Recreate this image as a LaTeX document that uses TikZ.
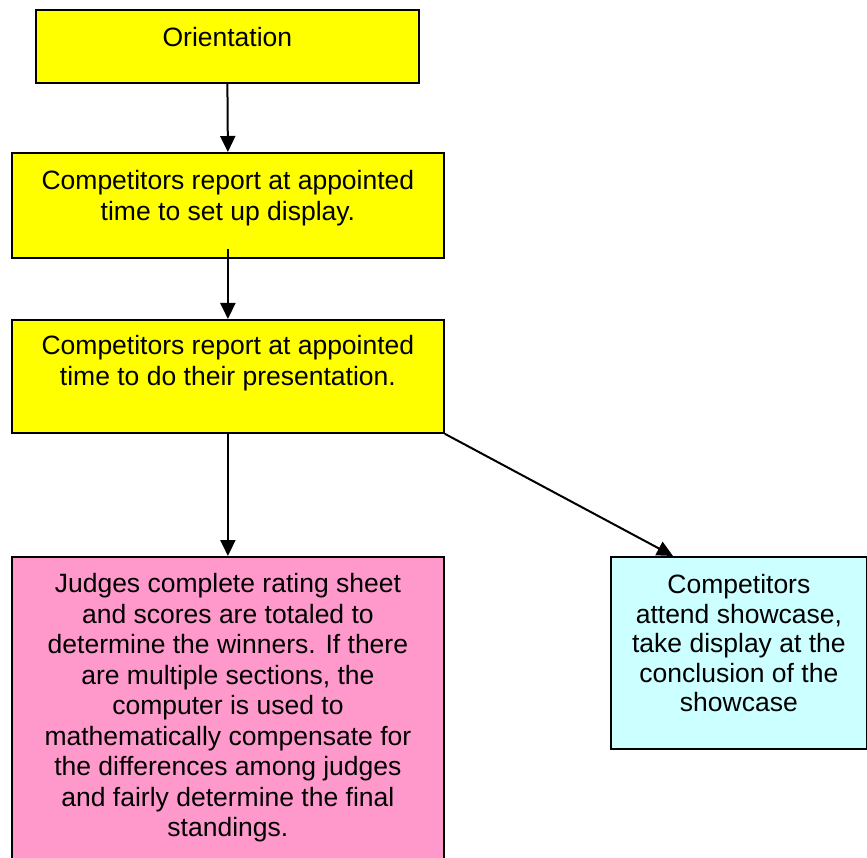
\documentclass[tikz,border=0pt]{standalone}
\usepackage{fontspec}
\setmainfont{Liberation Sans}
\usetikzlibrary{arrows.meta,calc}
\definecolor{boxyellow}{HTML}{FFFF00}
\definecolor{boxpink}{HTML}{FF99CC}
\definecolor{boxcyan}{HTML}{CCFFFF}
\begin{document}
\begin{tikzpicture}[x=1pt,y=-1pt,
  box/.style={draw=black,line width=1.8pt,inner sep=0pt,anchor=north west},
  txt/.style={font=\fontsize{26.5}{30.5}\selectfont,align=center,inner sep=0pt,anchor=north},
  arr/.style={draw=black,line width=2pt,-{Triangle[length=16pt,width=15pt]}}]
\useasboundingbox (0,0) rectangle (867,858);
\clip (0,0) rectangle (867,858);
\fill[white] (0,0) rectangle (867,858);
% boxes
\node[box,fill=boxyellow,minimum width=383pt,minimum height=73pt] (o) at (35,9) {};
\node[box,fill=boxyellow,minimum width=432pt,minimum height=105pt] (b2) at (11,152) {};
\node[box,fill=boxyellow,minimum width=432pt,minimum height=113pt] (b3) at (11,319) {};
\node[box,fill=boxpink,minimum width=432pt,minimum height=330pt] (j) at (11,556) {};
\node[box,fill=boxcyan,minimum width=256pt,minimum height=192pt] (c) at (610,556) {};
% texts
\node[txt] (ot) at ($(o.north)+(0,16)$) {\strut Orientation};
\node[txt] (b2t) at ($(b2.north)+(0,16)$) {\strut Competitors report at appointed\\time to set up display.};
\node[txt] (b3t) at ($(b3.north)+(0,14)$) {\strut Competitors report at appointed\\time to do their presentation.};
\node[txt] (jt) at ($(j.north)+(0,15)$) {\strut Judges complete rating sheet\\and scores are totaled to\\determine the winners. If there\\are multiple sections, the\\computer is used to\\mathematically compensate for\\the differences among judges\\and fairly determine the final\\standings.};
\node[txt,font=\fontsize{26.5}{29.5}\selectfont] (ct) at ($(c.north)+(0,17)$) {\strut Competitors\\attend showcase,\\take display at the\\conclusion of the\\showcase};
% connectors
\coordinate (cin) at (673,556);
\draw[arr] (o.south) -- (b2.north);
\draw[arr] ($(b2.south)+(0,-10)$) -- (b3.north);
\draw[arr] (b3.south) -- (j.north);
\draw[arr] (b3.south east) -- (cin);
\end{tikzpicture}
\end{document}
